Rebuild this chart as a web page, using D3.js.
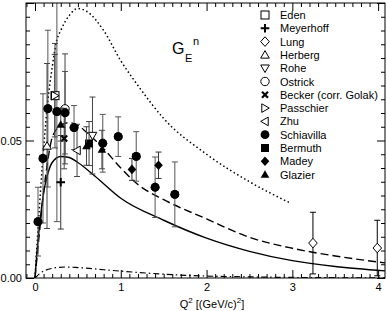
<!DOCTYPE html>
<html><head><meta charset="utf-8">
<script src="https://cdn.jsdelivr.net/npm/d3@7"></script>
<style>
html,body{margin:0;padding:0;background:#fff;}
svg{display:block;font-family:"Liberation Sans",Arial,Helvetica,sans-serif;}
</style></head>
<body><svg id="c" width="387" height="311"></svg>
<script>
// ---------- data ----------
const legendNames = ["Eden","Meyerhoff","Lung","Herberg","Rohe","Ostrick","Becker (corr. Golak)","Passchier","Zhu","Schiavilla","Bermuth","Madey","Glazier"];
const legendSymbols = ["squareOpen","plus","diamondOpen","triUpOpen","triDownOpen","circleOpen","times","triRightOpen","triLeftOpen","circle","square","diamond","triUp"];

const edenQ2 = [0.233], edenG = [0.0663], edenErr = [0.019];
const meyerhoffQ2 = [0.30], meyerhoffG = [0.0348], meyerhoffErr = [0.017];
const lungQ2 = [3.24, 3.99], lungG = [0.0127, 0.0109], lungErr = [0.0112, 0.0101];
const herbergQ2 = [0.14], herbergG = [0.048], herbergErr = [0.030];
const roheQ2 = [0.67], roheG = [0.0518], roheErr = [0.014];
const ostrickQ2 = [0.35], ostrickG = [0.0615], ostrickErr = [0.020];
const beckerQ2 = [0.34], beckerG = [0.0507], beckerErr = [0.011];
const passchierQ2 = [0.23], passchierG = [0.0663], passchierErr = [0.015];
const zhuQ2 = [0.49], zhuG = [0.0464], zhuErr = [0.0095];
const schiavillaQ2 = [0.035, 0.093, 0.15, 0.255, 0.35, 0.455, 0.79, 0.97, 1.18, 1.40, 1.63];
const schiavillaG  = [0.0205, 0.0435, 0.0616, 0.0605, 0.0601, 0.0547, 0.049, 0.0514, 0.0442, 0.033, 0.0304];
const schiavillaErr= [0.0125, 0.0235, 0.0285, 0.040, 0.015, 0.008, 0.0105, 0.0072, 0.009, 0.011, 0.0118];
const bermuthQ2 = [0.63], bermuthG = [0.0489], bermuthErr = [0.008];
const madeyQ2 = [1.13, 1.44], madeyG = [0.0395, 0.041], madeyErr = [0.004, 0.0048];
const glazierQ2 = [0.30, 0.60, 0.78], glazierG = [0.0558, 0.048, 0.0467], glazierErr = [0.006, 0.007, 0.007];

const solidQ2 = [0, 0.03, 0.06, 0.1, 0.15, 0.2, 0.3, 0.4, 0.5, 0.7, 1.0, 1.5, 2.0, 2.5, 3.0, 3.5, 4.08];
const solidG  = [0, 0.012, 0.021, 0.031, 0.038, 0.042, 0.0442, 0.0438, 0.042, 0.037, 0.029, 0.021, 0.0145, 0.0097, 0.0063, 0.0042, 0.0026];
const dashedQ2 = [0, 0.05, 0.1, 0.15, 0.2, 0.3, 0.4, 0.5, 0.6, 0.8, 1.0, 1.2, 1.5, 2.0, 2.5, 3.0, 3.5, 4.08];
const dashedG  = [0, 0.016, 0.031, 0.043, 0.051, 0.0555, 0.0565, 0.0555, 0.053, 0.047, 0.040, 0.034, 0.0285, 0.0215, 0.0148, 0.0108, 0.0080, 0.0055];
const dottedQ2 = [0, 0.05, 0.1, 0.15, 0.2, 0.25, 0.3, 0.4, 0.5, 0.6, 0.8, 1.0, 1.2, 1.5, 2.0, 2.5, 2.98];
const dottedG  = [0, 0.025, 0.047, 0.0645, 0.0765, 0.086, 0.090, 0.0955, 0.098, 0.097, 0.090, 0.079, 0.070, 0.058, 0.045, 0.035, 0.0272];
const dashdotQ2 = [0, 0.05, 0.1, 0.2, 0.35, 0.5, 0.8, 1.0, 1.3, 1.6, 2.0, 2.5, 3.0, 3.5, 4.08];
const dashdotG  = [0, 0.0015, 0.0025, 0.0035, 0.004, 0.0038, 0.003, 0.0025, 0.0018, 0.0012, 0.0007, 0.0004, 0.0002, 0.0001, 0.0001];

const xMajorTicks = [0, 1, 2, 3, 4];
const yMajorTicks = [0, 0.05, 0.1];
const yTickLabels = ["0.00", "0.05", ""];

// ---------- layout ----------
const svg = d3.select("#c");
const L = 26, R = 385, T = 3, B = 278;
const x = d3.scaleLinear().domain([-0.105, 4.08]).range([L, R]);
const y = d3.scaleLinear().domain([0, 0.1]).range([B, T]);

svg.append("defs").append("clipPath").attr("id","clip")
  .append("rect").attr("x",L).attr("y",T).attr("width",R-L).attr("height",B-T);
const plot = svg.append("g").attr("clip-path","url(#clip)");

// curves
const line = (qs, gs) => d3.line().x(i => x(qs[i])).y(i => y(gs[i])).curve(d3.curveMonotoneX)(d3.range(qs.length));
plot.append("path").attr("d", line(dottedQ2, dottedG)).attr("fill","none").attr("stroke","#000")
  .attr("stroke-width",1.5).attr("stroke-dasharray","1.5,2.6");
plot.append("path").attr("d", line(dashedQ2, dashedG)).attr("fill","none").attr("stroke","#000")
  .attr("stroke-width",1.4).attr("stroke-dasharray","8,4");
plot.append("path").attr("d", line(solidQ2, solidG)).attr("fill","none").attr("stroke","#000")
  .attr("stroke-width",1.4);
plot.append("path").attr("d", line(dashdotQ2, dashdotG)).attr("fill","none").attr("stroke","#000")
  .attr("stroke-width",1.2).attr("stroke-dasharray","6,3,1.5,3");

// symbols
function sym(g, type, cx, cy) {
  const s = 4.3;
  let el;
  const open = /Open$/.test(type);
  switch (type) {
    case "squareOpen": case "square":
      el = g.append("rect").attr("x",cx-s+0.3).attr("y",cy-s+0.3).attr("width",2*s-0.6).attr("height",2*s-0.6); break;
    case "circleOpen": case "circle":
      el = g.append("circle").attr("cx",cx).attr("cy",cy).attr("r", type==="circle"?4.4:4.2); break;
    case "diamondOpen": case "diamond":
      el = g.append("path").attr("d",`M${cx},${cy-s-0.5}L${cx+s},${cy}L${cx},${cy+s+0.5}L${cx-s},${cy}Z`); break;
    case "triUpOpen": case "triUp":
      el = g.append("path").attr("d",`M${cx},${cy-s}L${cx+s},${cy+s*0.75}L${cx-s},${cy+s*0.75}Z`); break;
    case "triDownOpen":
      el = g.append("path").attr("d",`M${cx},${cy+s}L${cx+s},${cy-s*0.75}L${cx-s},${cy-s*0.75}Z`); break;
    case "triRightOpen":
      el = g.append("path").attr("d",`M${cx+s},${cy}L${cx-s*0.75},${cy-s}L${cx-s*0.75},${cy+s}Z`); break;
    case "triLeftOpen":
      el = g.append("path").attr("d",`M${cx-s},${cy}L${cx+s*0.75},${cy-s}L${cx+s*0.75},${cy+s}Z`); break;
    case "plus":
      g.append("path").attr("d",`M${cx-s},${cy}H${cx+s}M${cx},${cy-s}V${cy+s}`)
        .attr("stroke","#000").attr("stroke-width",2).attr("fill","none"); return;
    case "times":
      g.append("path").attr("d",`M${cx-3},${cy-3}L${cx+3},${cy+3}M${cx-3},${cy+3}L${cx+3},${cy-3}`)
        .attr("stroke","#000").attr("stroke-width",2.2).attr("fill","none"); return;
  }
  if (open) el.attr("fill","#fff").attr("stroke","#000").attr("stroke-width",1);
  else el.attr("fill","#000").attr("stroke","none");
}

function dataset(qs, gs, es, type, barColor) {
  const g = plot.append("g");
  qs.forEach((q, i) => {
    const cx = x(q), y1 = y(gs[i] + es[i]), y2 = y(gs[i] - es[i]);
    g.append("path").attr("d", `M${cx},${y1}V${y2}M${cx-3},${y1}H${cx+3}M${cx-3},${y2}H${cx+3}`)
      .attr("stroke", barColor).attr("stroke-width", 1).attr("fill","none");
  });
  qs.forEach((q, i) => sym(g, type, x(q), y(gs[i])));
}

dataset(schiavillaQ2, schiavillaG, schiavillaErr, "circle", "#555");
dataset(ostrickQ2, ostrickG, ostrickErr, "circleOpen", "#444");
dataset(edenQ2, edenG, edenErr, "squareOpen", "#444");
dataset(passchierQ2, passchierG, passchierErr, "triRightOpen", "#444");
dataset(meyerhoffQ2, meyerhoffG, meyerhoffErr, "plus", "#333");
dataset(herbergQ2, herbergG, herbergErr, "triUpOpen", "#444");
dataset(roheQ2, roheG, roheErr, "triDownOpen", "#444");
dataset(beckerQ2, beckerG, beckerErr, "times", "#444");
dataset(zhuQ2, zhuG, zhuErr, "triLeftOpen", "#444");
dataset(bermuthQ2, bermuthG, bermuthErr, "square", "#444");
dataset(glazierQ2, glazierG, glazierErr, "triUp", "#444");
dataset(madeyQ2, madeyG, madeyErr, "diamond", "#333");
dataset(lungQ2, lungG, lungErr, "diamondOpen", "#000");
// redraw schiavilla markers on top
schiavillaQ2.forEach((q,i) => sym(plot, "circle", x(q), y(schiavillaG[i])));

// ---------- axes ----------
const xMinor = d3.range(-1, 41).map(d => d / 10).filter(d => d >= -0.1 && d <= 4.08 && Math.abs(d - Math.round(d)) > 1e-6);
const yMinor = d3.range(1, 20).map(d => d * 0.005).filter(d => Math.abs(d - 0.05) > 1e-6);
const ax = svg.append("g").attr("font-size", 11);
ax.append("g").attr("transform",`translate(0,${B})`)
  .call(d3.axisBottom(x).tickValues(xMajorTicks).tickSize(-8).tickPadding(5).tickFormat(d3.format("d")));
ax.append("g").attr("transform",`translate(0,${B})`)
  .call(d3.axisBottom(x).tickValues(xMinor).tickSize(-4).tickFormat(""));
ax.append("g").attr("transform",`translate(0,${T})`)
  .call(d3.axisTop(x).tickValues(xMajorTicks).tickSize(-8).tickFormat(""));
ax.append("g").attr("transform",`translate(0,${T})`)
  .call(d3.axisTop(x).tickValues(xMinor).tickSize(-4).tickFormat(""));
ax.append("g").attr("transform",`translate(${L},0)`)
  .call(d3.axisLeft(y).tickValues(yMajorTicks).tickSize(-8).tickPadding(4).tickFormat((d,i) => yTickLabels[i]));
ax.append("g").attr("transform",`translate(${L},0)`)
  .call(d3.axisLeft(y).tickValues(yMinor).tickSize(-4).tickFormat(""));
ax.append("g").attr("transform",`translate(${R},0)`)
  .call(d3.axisRight(y).tickValues(yMajorTicks).tickSize(-8).tickFormat(""));
ax.append("g").attr("transform",`translate(${R},0)`)
  .call(d3.axisRight(y).tickValues(yMinor).tickSize(-4).tickFormat(""));
ax.selectAll(".domain").remove();
ax.selectAll("text").attr("font-family","Liberation Sans, Arial, sans-serif").attr("font-size",11).attr("fill","#000");
ax.selectAll("line").attr("stroke","#000");
svg.append("rect").attr("x",L).attr("y",T).attr("width",R-L).attr("height",B-T)
  .attr("fill","none").attr("stroke","#000").attr("stroke-width",1);

// axis title
const xt = svg.append("text").attr("x", 212).attr("y", 308).attr("text-anchor","middle").attr("font-size",11);
xt.append("tspan").text("Q");
xt.append("tspan").attr("font-size",8).attr("dy",-5).text("2");
xt.append("tspan").attr("dy",5).text(" [(GeV/c)");
xt.append("tspan").attr("font-size",8).attr("dy",-5).text("2");
xt.append("tspan").attr("dy",5).text("]");

// G_E^n label
svg.append("text").attr("x",172).attr("y",54).attr("font-size",16).text("G");
svg.append("text").attr("x",185).attr("y",62).attr("font-size",11).text("E");
svg.append("text").attr("x",193).attr("y",45).attr("font-size",11).text("n");

// legend
const lg = svg.append("g");
legendNames.forEach((n, i) => {
  const ly = 15 + 13.3 * i;
  sym(lg, legendSymbols[i], 265, ly);
  lg.append("text").attr("x", 280).attr("y", ly + 4).attr("font-size", 11).text(n);
});
</script></body></html>
